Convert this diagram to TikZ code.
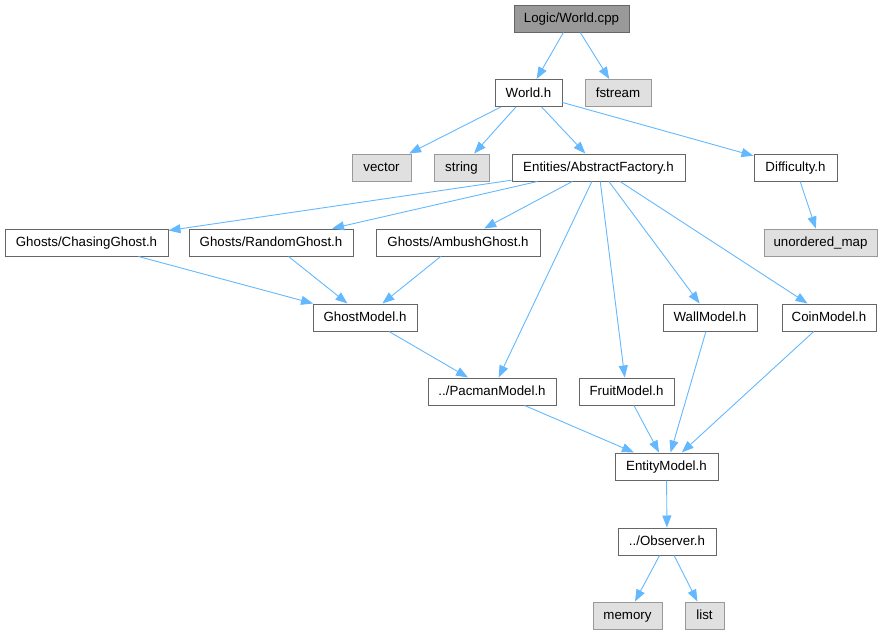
\documentclass[tikz,border=0pt]{standalone}
\usepackage{fontspec}
\setmainfont{Liberation Sans}
\usepackage{xcolor}
\usepackage{tikz}
\usetikzlibrary{shapes,arrows.meta}
\definecolor{edgeblue}{HTML}{63B8FF}
\definecolor{boxline}{HTML}{666666}
\definecolor{sysline}{HTML}{999999}
\definecolor{sysfill}{HTML}{E0E0E0}
\definecolor{mainfill}{HTML}{999999}

\begin{document}
\begin{tikzpicture}[x=1pt, y=-1pt,
  hdr/.style={draw=boxline, fill=white, line width=1pt, minimum height=27pt, inner sep=0pt, text height=9.5pt, text depth=1.5pt, font=\fontsize{13.3}{16}\selectfont},
  sys/.style={hdr, draw=sysline, fill=sysfill},
  src/.style={hdr, fill=mainfill},
  dep/.style={edgeblue, line width=0.9pt, -{Triangle[length=12pt,width=9pt]}}]
\useasboundingbox (0,0) rectangle (880,635);
\node[src, minimum width=115pt] (wcpp) at (571.5,18.5) {Logic/World.cpp};
\node[hdr, minimum width=67pt] (worldh) at (528.5,93) {World.h};
\node[sys, minimum width=66pt] (fstream) at (618,93) {fstream};
\node[sys, minimum width=59pt] (vector) at (381.5,167.5) {vector};
\node[sys, minimum width=55pt] (string) at (461.5,167.5) {string};
\node[hdr, minimum width=173pt] (af) at (598.5,167.5) {Entities/AbstractFactory.h};
\node[hdr, minimum width=83pt] (diff) at (795.5,167.5) {Difficulty.h};
\node[hdr, minimum width=163pt] (chasing) at (86.5,242.5) {Ghosts/ChasingGhost.h};
\node[hdr, minimum width=164pt] (random) at (271,242.5) {Ghosts/RandomGhost.h};
\node[hdr, minimum width=164pt] (ambush) at (458,242.5) {Ghosts/AmbushGhost.h};
\node[sys, minimum width=113pt] (umap) at (820.5,242.5) {unordered\_map};
\node[hdr, minimum width=104pt] (ghost) at (365,317.5) {GhostModel.h};
\node[hdr, minimum width=94pt] (wall) at (710,317.5) {WallModel.h};
\node[hdr, minimum width=94pt] (coin) at (829,317.5) {CoinModel.h};
\node[hdr, minimum width=128pt] (pacman) at (492,391.5) {../PacmanModel.h};
\node[hdr, minimum width=95pt] (fruit) at (626.5,391.5) {FruitModel.h};
\node[hdr, minimum width=103pt] (entity) at (666.5,466.5) {EntityModel.h};
\node[hdr, minimum width=98pt] (observer) at (667,541.5) {../Observer.h};
\node[sys, minimum width=69pt] (memory) at (627.5,615.5) {memory};
\node[sys, minimum width=39pt] (list) at (704.5,615.5) {list};
\draw[dep] (wcpp) -- (worldh);
\draw[dep] (wcpp) -- (fstream);
\draw[dep] (worldh) -- (vector);
\draw[dep] (worldh) -- (string);
\draw[dep] (worldh) -- (af);
\draw[dep] (worldh) -- (diff);
\draw[dep] (diff) -- (umap);
\draw[dep] (af) -- (chasing);
\draw[dep] (af) -- (random);
\draw[dep] (af) -- (ambush);
\draw[dep] (af) -- (pacman);
\draw[dep] (af) -- (fruit);
\draw[dep] (af) -- (wall);
\draw[dep] (af) -- (coin);
\draw[dep] (chasing) -- (ghost);
\draw[dep] (random) -- (ghost);
\draw[dep] (ambush) -- (ghost);
\draw[dep] (ghost) -- (pacman);
\draw[dep] (pacman) -- (entity);
\draw[dep] (fruit) -- (entity);
\draw[dep] (wall) -- (entity);
\draw[dep] (coin) -- (entity);
\draw[dep] (entity) -- (observer);
\draw[dep] (observer) -- (memory);
\draw[dep] (observer) -- (list);
\end{tikzpicture}
\end{document}
